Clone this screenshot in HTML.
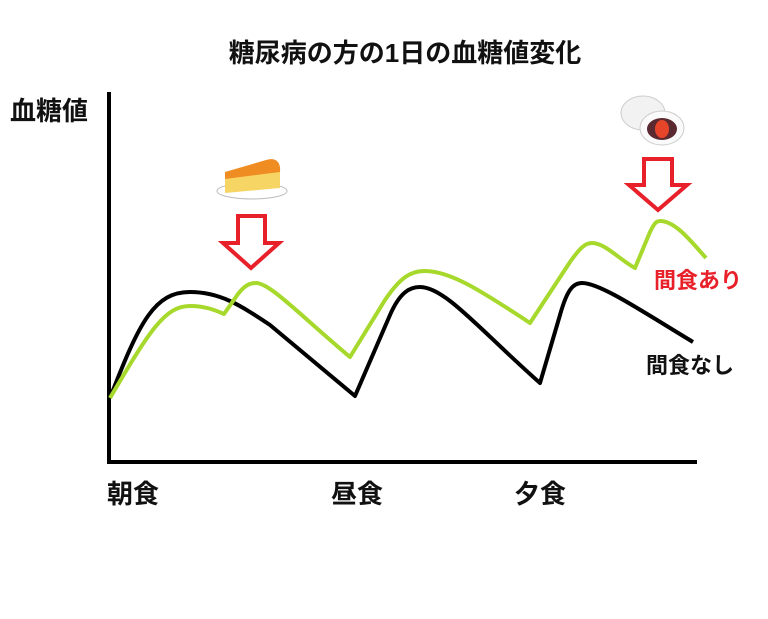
<!DOCTYPE html>
<html><head><meta charset="utf-8"><style>
html,body{margin:0;padding:0;background:#fff;}
svg text{font-family:"Liberation Sans","Noto Sans CJK JP",sans-serif;font-weight:bold;}
</style></head><body>
<svg width="768" height="614" viewBox="0 0 768 614" xmlns="http://www.w3.org/2000/svg">
<rect width="768" height="614" fill="#fff"/>
<text x="405" y="62" font-size="26" text-anchor="middle" fill="#111">糖尿病の方の1日の血糖値変化</text>
<text x="10" y="120" font-size="26" fill="#111">血糖値</text>
<text x="107" y="503" font-size="26" fill="#111">朝食</text>
<text x="331" y="503" font-size="26" fill="#111">昼食</text>
<text x="514" y="503" font-size="26" fill="#111">夕食</text>
<text x="654" y="288" font-size="22" fill="#e8202a">間食あり</text>
<text x="646" y="373" font-size="22" fill="#111">間食なし</text>
<path d="M109 92 V462 H697" fill="none" stroke="#000" stroke-width="4"/>
<path d="M110 398 C140 320 155 292 190 292 C220 292 240 305 270 325 L355 396 L390 315 C400 292 410 287 420 287 C445 287 480 330 540 383 L560 315 C567 290 573 283 582 283 C600 283 640 310 693 342" fill="none" stroke="#000" stroke-width="4" stroke-linejoin="round"/>
<path d="M110 398 C150 330 165 306 190 306 C205 306 215 310 224 314 L238 294 C245 285 250 283 256 283 C270 283 300 315 350 357 L385 300 C400 278 410 271 425 271 C450 271 480 290 530 323 L570 262 C580 248 585 243 592 243 C605 243 620 260 635 268 L650 232 C654 224 656 221 660 221 C675 221 690 240 706 258" fill="none" stroke="#a6d92c" stroke-width="4" stroke-linejoin="round"/>
<path d="M238 216 H265 V243 H279 L251 268 L223 243 H238 Z" fill="none" stroke="#e8202a" stroke-width="4" stroke-linejoin="miter"/>
<path d="M644 159 H672 V185 H687 L658 210 L629 185 H644 Z" fill="none" stroke="#e8202a" stroke-width="4" stroke-linejoin="miter"/>
<ellipse cx="252" cy="191" rx="35" ry="8" fill="#fff" stroke="#bbb" stroke-width="1"/>
<path d="M225 173 L268 163 C275 160 280 163 280 170 L280 188 L225 193 Z" fill="#f7d564"/>
<path d="M225 172 L266 160 C276 157 281 162 280 172 L225 179 Z" fill="#f08d22"/>
<ellipse cx="643" cy="113" rx="22" ry="17" fill="#f2f2f2" stroke="#ccc"/>
<ellipse cx="662" cy="128" rx="22" ry="17" fill="#fafafa" stroke="#ccc"/>
<ellipse cx="662" cy="129" rx="15" ry="11" fill="#5a2a30"/>
<ellipse cx="662" cy="129" rx="7" ry="9" fill="#e6452a"/>
</svg>
</body></html>
